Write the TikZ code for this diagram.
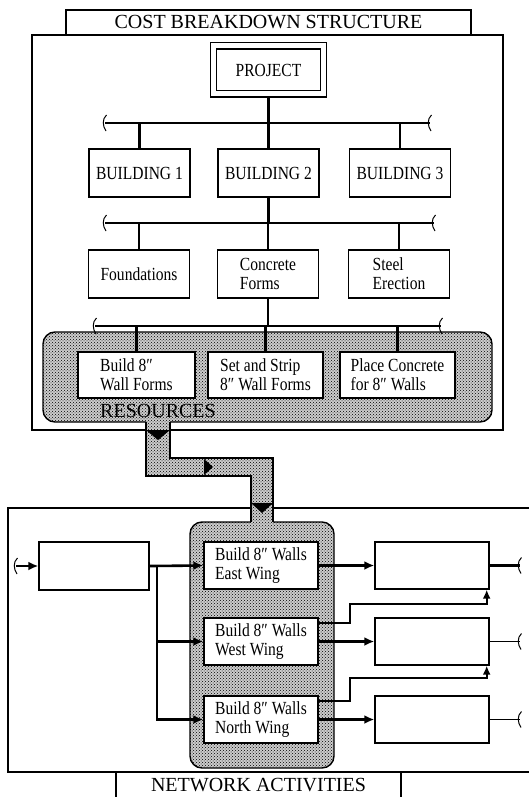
\documentclass[tikz,border=0pt]{standalone}
\usepackage{fontspec}
\setmainfont{Liberation Serif}[FakeStretch=0.84]
\newfontfamily\headfont{Liberation Serif}
\usetikzlibrary{positioning}
\usetikzlibrary{arrows.meta}
\usetikzlibrary{patterns}
\tikzset{
    mynode/.style = {rectangle, draw=black, line width=1.4pt, fill=white, align=left, inner sep=0pt,
                     minimum width=101pt, minimum height=48pt, font=\fontsize{18.5}{19}\selectfont},
    mynodep/.style = {mynode, double, double distance=5pt, line width=1.3pt, outer sep=3.5pt,
                      minimum width=110pt, minimum height=48pt},
    cell/.style = {mynode, minimum width=114pt, minimum height=47pt},
    heading/.style = {inner sep=0pt, font=\headfont\fontsize{20}{22}\selectfont},
    frame/.style = {line width=1.4pt},
    hatched/.style = {draw=black, line width=1.4pt, preaction={fill=black!20}, pattern=crosshatch dots},
    barline/.style = {line width=2.6pt},
    edgen/.style = {-{Latex[length=10pt,width=9pt]}, line width=2.6pt},
    edget/.style = {-{Latex[length=9pt,width=8pt]}, line width=1.9pt},
    brk/.pic = {\draw[line width=1pt] (1.5,-8) .. controls (-3,-4) and (-2.5,3) .. (1,8);}
}

\begin{document}
\begin{tikzpicture}[x=1pt, y=-1pt, line cap=butt]
  \useasboundingbox (0,0) rectangle (529,797);

  % cost breakdown structure
  \draw[frame] (66,35) -- (66,10) -- (471,10) -- (471,35);
  \node[heading] (cbs) at (268.5,22) {COST BREAKDOWN STRUCTURE};
  \draw[frame] (32,35) rectangle (503,430);

  \node[mynodep] (proj) at (268.5,70) {PROJECT};
  \node[mynode] (b1) at (139.5,173) {BUILDING 1};
  \node[mynode] (b2) at (268.5,173) {BUILDING 2};
  \node[mynode] (b3) at (400,173) {BUILDING 3};
  \coordinate (bl1) at (105,123);
  \coordinate (br1) at (430,123);
  \draw[barline] (bl1) -- (br1);
  \pic at (bl1) {brk};
  \pic at (br1) {brk};
  \draw[barline] (proj.south) -- (proj.south |- bl1);
  \foreach \n in {b1,b2,b3}
    \draw[barline] (\n.north) -- (\n.north |- bl1);

  \node[mynode] (f1) at (139,274) {Foundations};
  \node[mynode] (f2) at (268,274) {Concrete\\Forms};
  \node[mynode] (f3) at (399,274) {Steel\\Erection};
  \coordinate (bl2) at (105,223);
  \coordinate (br2) at (434,223);
  \draw[barline] (bl2) -- (br2);
  \pic at (bl2) {brk};
  \pic at (br2) {brk};
  \draw[barline] (b2.south) -- (b2.south |- bl2);
  \foreach \n in {f1,f2,f3}
    \draw[barline] (\n.north) -- (\n.north |- bl2);

  % resources
  \draw[hatched, rounded corners=12pt] (43,332) rectangle (492,422);
  \node[mynode, minimum width=117pt, minimum height=46pt] (r1) at (136.5,375) {Build 8″\\Wall Forms};
  \node[mynode, minimum width=115pt, minimum height=46pt] (r2) at (265.5,375) {Set and Strip\\8″ Wall Forms};
  \node[mynode, minimum width=115pt, minimum height=46pt] (r3) at (397.5,375) {Place Concrete\\for 8″ Walls};
  \node[heading, anchor=west] (res) at (100,411) {RESOURCES};
  \coordinate (bl3) at (95,326);
  \coordinate (br3) at (441,326);
  \draw[barline] (bl3) -- (br3);
  \pic at (bl3) {brk};
  \pic at (br3) {brk};
  \draw[barline] (f2.south) -- (f2.south |- bl3);
  \foreach \n in {r1,r2,r3}
    \draw[barline] (\n.north) -- (\n.north |- bl3);

  % network activities
  \draw[frame] (529,508) -- (8,508) -- (8,772) -- (529,772);
  \draw[frame] (116,797) -- (116,772);
  \draw[frame] (401,797) -- (401,772);
  \node[heading] (net) at (258.5,785) {NETWORK ACTIVITIES};
  \draw[hatched, rounded corners=12pt] (190,522) rectangle (334,768);

  % resource flow
  \path[hatched, draw=none] (146,420) -- (146,476) -- (251,476) -- (251,525) -- (273,525)
    -- (273,458) -- (170,458) -- (170,420);
  \draw[frame] (146,422) -- (146,476) -- (251,476) -- (251,522);
  \draw[frame] (170,422) -- (170,458) -- (273,458) -- (273,522);
  \fill (146,430) -- (170,430) -- (158,440) -- cycle;
  \fill (204,459) -- (213,467) -- (204,475) -- cycle;
  \fill (251,503) -- (273,503) -- (262,513) -- cycle;

  \node[mynode, minimum width=110pt] (s) at (94,566) {};
  \node[cell] (a1) at (261,565.5) {Build 8″ Walls\\East Wing};
  \node[cell] (a2) at (261,641.5) {Build 8″ Walls\\West Wing};
  \node[cell] (a3) at (261,719.5) {Build 8″ Walls\\North Wing};
  \node[cell] (e1) at (432,565.5) {};
  \node[cell] (e2) at (432,641.5) {};
  \node[cell] (e3) at (432,719.5) {};

  \coordinate (in) at (16,566);
  \coordinate (j) at (157,566);
  \coordinate (o1) at (520,565.5);
  \coordinate (o2) at (520,641.5);
  \coordinate (o3) at (520,719.5);
  \pic at (in) {brk};
  \draw[edgen] (in) -- (s.west);
  \draw[edgen] (s.east) -- (a1.west);
  \draw[edgen] (j) |- (a3.west);
  \draw[edgen] (j |- a2.west) -- (a2.west);
  \foreach \a/\e in {a1/e1,a2/e2,a3/e3}
    \draw[edgen] (\a.east) -- (\e.west);
  \draw[edget] ([yshift=-6pt]a2.north east) -| ++(31,-19) -| ([xshift=-3pt]e1.south east);
  \draw[edget] ([yshift=-6pt]a3.north east) -| ++(31,-23) -| ([xshift=-3pt]e2.south east);
  \draw[barline] (e1.east) -- (o1);
  \draw[frame] (e2.east) -- (o2);
  \draw[frame] (e3.east) -- (o3);
  \foreach \o in {o1,o2,o3}
    \pic at (\o) {brk};
\end{tikzpicture}
\end{document}
